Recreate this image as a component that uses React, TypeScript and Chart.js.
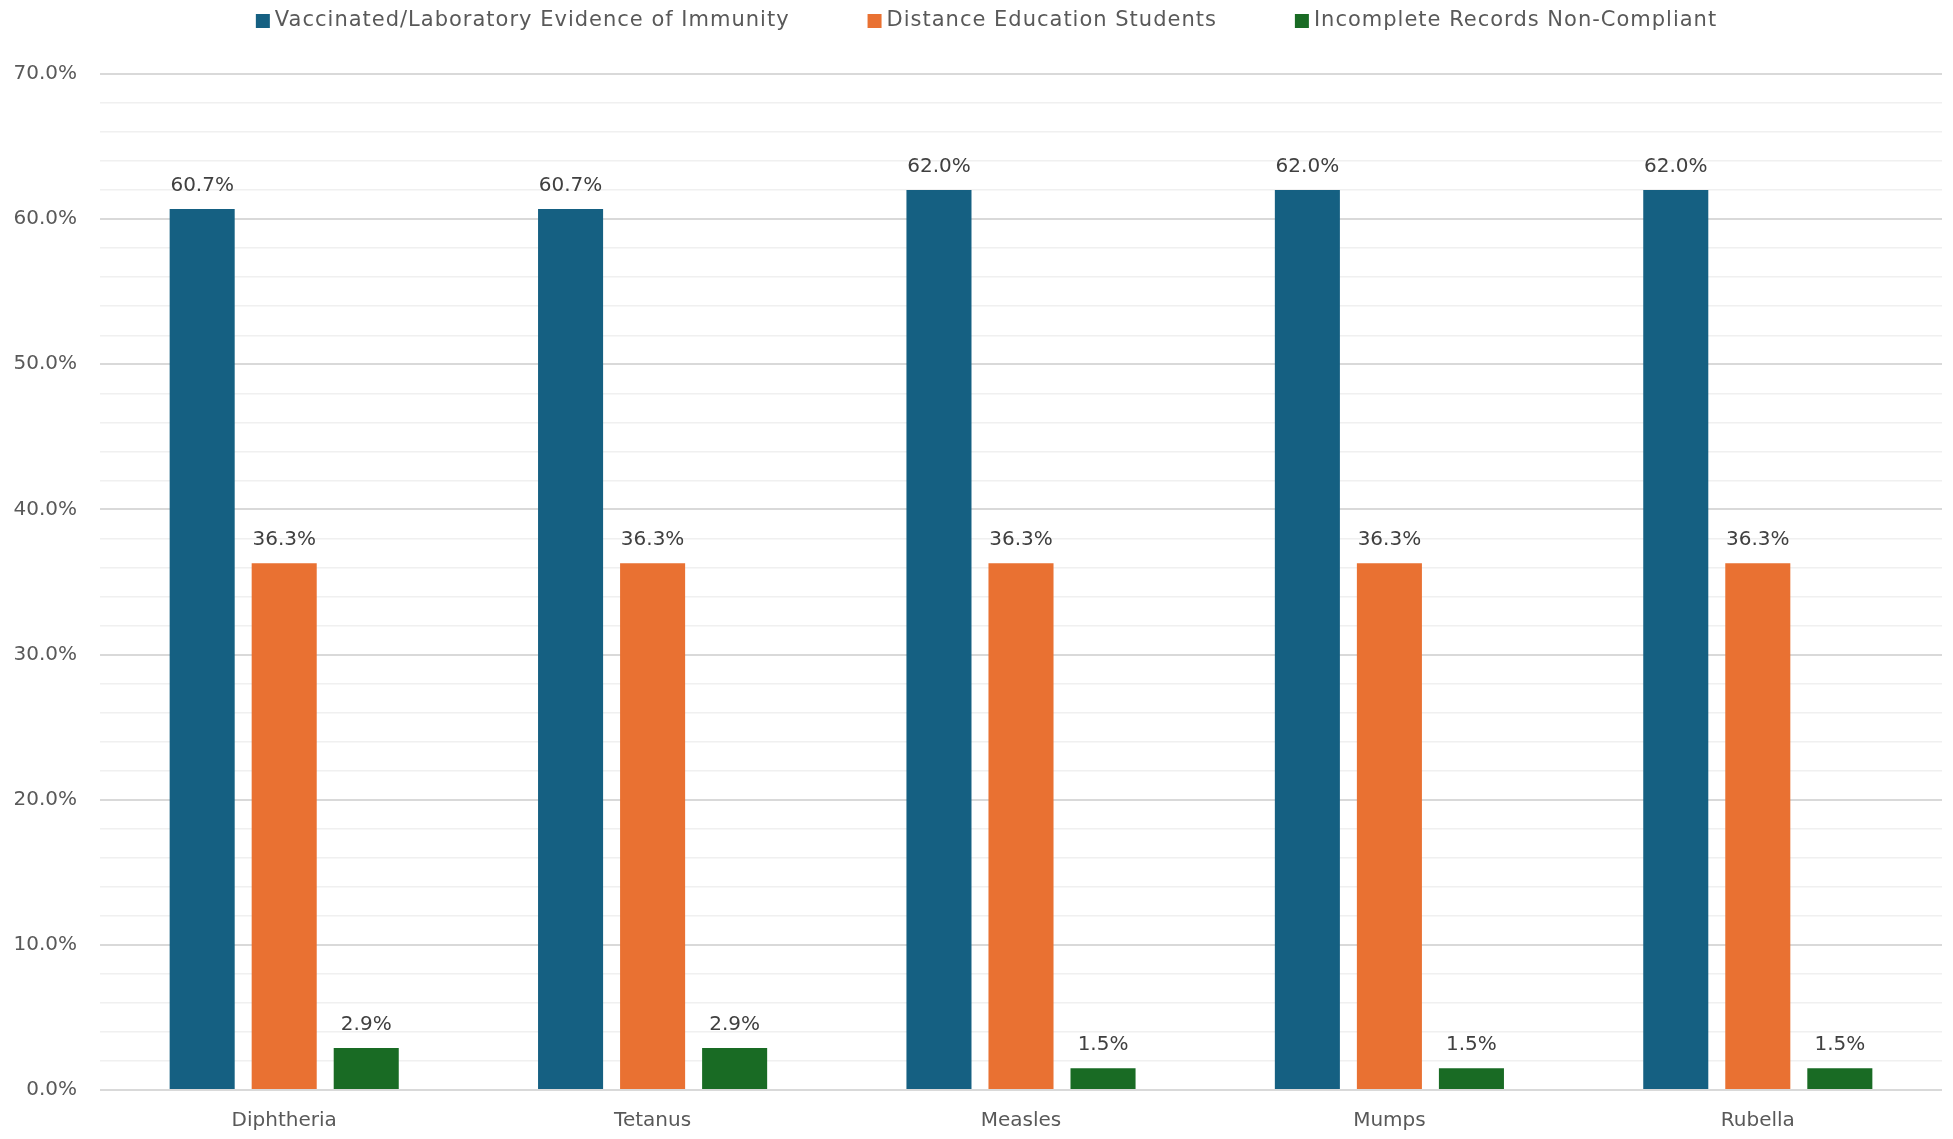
import React, { useEffect, useRef } from "react";
import { Chart, registerables } from "chart.js";

Chart.register(...registerables);

const categories = ["Diphtheria", "Tetanus", "Measles", "Mumps", "Rubella"];
const vaccinated = [60.7, 60.7, 62.0, 62.0, 62.0];
const distance = [36.3, 36.3, 36.3, 36.3, 36.3];
const incomplete = [2.9, 2.9, 1.5, 1.5, 1.5];
const seriesNames = [
  "Vaccinated/Laboratory Evidence of Immunity",
  "Distance Education Students",
  "Incomplete Records Non-Compliant",
];
const seriesColors = ["#156082", "#E97132", "#196B24"];

const FONT = "'DejaVu Sans', sans-serif";

const dataLabelPlugin = {
  id: "dataLabels",
  afterDatasetsDraw(chart: any) {
    const ctx = chart.ctx;
    ctx.save();
    ctx.font = `20px ${FONT}`;
    ctx.fillStyle = "#404040";
    ctx.textAlign = "center";
    ctx.textBaseline = "alphabetic";
    chart.data.datasets.forEach((ds: any, i: number) => {
      const meta = chart.getDatasetMeta(i);
      meta.data.forEach((bar: any, j: number) => {
        const v = ds.data[j];
        ctx.fillText(v.toFixed(1) + "%", bar.x, bar.y - 18);
      });
    });
    ctx.restore();
  },
};

const customLegendPlugin = {
  id: "customLegend",
  afterDraw(chart: any) {
    const ctx = chart.ctx;
    ctx.save();
    ctx.font = `21px ${FONT}`;
    const spacing = 1;
    try {
      (ctx as any).letterSpacing = spacing + "px";
    } catch (e) {}
    const hasLS = (ctx as any).letterSpacing === spacing + "px";
    const textW = (n: string) => {
      const w = ctx.measureText(n).width;
      return w;
    };
    const box = 14;
    const boxGap = 5;
    const itemGap = 78;
    const widths = seriesNames.map((n) => box + boxGap + textW(n));
    const total = widths.reduce((a, b) => a + b, 0) + itemGap * (widths.length - 1);
    let x = chart.width / 2 + 10 - total / 2;
    const cy = 21;
    seriesNames.forEach((n, i) => {
      ctx.fillStyle = seriesColors[i];
      ctx.fillRect(x, cy - box / 2, box, box);
      ctx.fillStyle = "#595959";
      ctx.textAlign = "left";
      ctx.textBaseline = "middle";
      ctx.fillText(n, x + box + boxGap, cy);
      x += widths[i] + itemGap;
    });
    void hasLS;
    ctx.restore();
  },
};

export default function App() {
  const ref = useRef<HTMLCanvasElement>(null);
  useEffect(() => {
    if (!ref.current) return;
    const chart = new Chart(ref.current, {
      type: "bar",
      data: {
        labels: categories,
        datasets: [vaccinated, distance, incomplete].map((d, i) => ({
          label: seriesNames[i],
          data: d,
          backgroundColor: seriesColors[i],
          categoryPercentage: 0.668,
          barPercentage: 0.793,
        })),
      },
      options: {
        responsive: false,
        animation: false,
        layout: { padding: { top: 74, right: 11, bottom: 0, left: 0 } },
        plugins: {
          legend: { display: false },
          tooltip: { enabled: false },
        },
        scales: {
          x: {
            grid: { display: false, drawTicks: false },
            border: { display: false },
            ticks: {
              font: { family: FONT, size: 20 },
              color: "#595959",
              padding: 19,
            },
            afterFit(scale: any) {
              scale.height = 49;
            },
          },
          y: {
            min: 0,
            max: 70,
            border: { display: false },
            grid: {
              drawTicks: false,
              color: (c: any) => (c.tick && c.tick.value % 10 === 0 ? "#d9d9d9" : "#f0f0f0"),
              lineWidth: (c: any) => (c.tick && c.tick.value % 10 === 0 ? 2 : 1.5),
            },
            ticks: {
              stepSize: 2,
              autoSkip: false,
              font: { family: FONT, size: 20 },
              color: "#595959",
              padding: 23,
              callback: (v: any) => (Number(v) % 10 === 0 ? Number(v).toFixed(1) + "%" : ""),
            },
            afterFit(scale: any) {
              scale.width = 100;
            },
          },
        },
      },
      plugins: [dataLabelPlugin, customLegendPlugin],
    });
    return () => chart.destroy();
  }, []);
  return (
    <div style={{ position: "fixed", left: 0, top: 0, width: 1953, height: 1139, background: "#fff" }}>
      <canvas ref={ref} width={1953} height={1139} style={{ display: "block" }} />
    </div>
  );
}
